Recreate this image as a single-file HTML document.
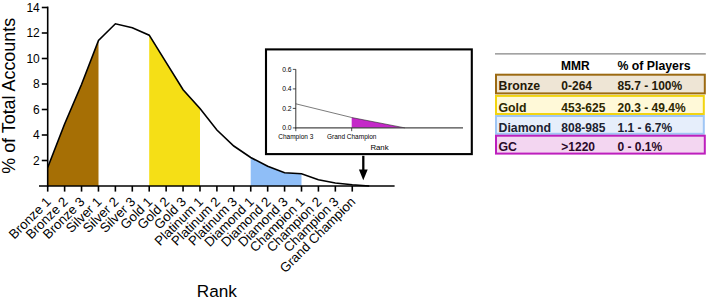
<!DOCTYPE html>
<html><head><meta charset="utf-8"><title>Rank distribution</title>
<style>
html,body{margin:0;padding:0;background:#fff;}
body{width:708px;height:300px;overflow:hidden;}
svg{display:block;}
text{font-family:"Liberation Sans",sans-serif;fill:#000;}
.b{font-weight:bold;}
</style></head><body>
<svg width="708" height="300" viewBox="0 0 708 300">
<rect width="708" height="300" fill="#fff"/>
<polygon points="47.7,186.0 47.7,167.5 64.6,124.0 81.5,84.5 98.5,40.5 98.5,186.0" fill="#A66F05"/>
<polygon points="149.2,186.0 149.2,35.2 166.1,62.4 183.1,89.7 200.0,108.5 200.0,186.0" fill="#F5DF16"/>
<polygon points="250.7,186.0 250.7,157.5 267.7,166.3 284.6,172.8 301.5,173.8 301.5,186.0" fill="#8FBEF7"/>
<polyline points="47.7,167.5 64.6,124.0 81.5,84.5 98.5,40.5 115.4,23.8 132.3,27.8 149.2,35.2 166.1,62.4 183.1,89.7 200.0,108.5 216.9,130.0 233.8,146.0 250.7,157.5 267.7,166.3 284.6,172.8 301.5,173.8 318.4,179.7 335.3,183.0 352.3,184.8 369.2,186.0" fill="none" stroke="#000" stroke-width="1.6" stroke-linejoin="miter"/>
<line x1="39" y1="186.0" x2="394.6" y2="186.0" stroke="#000" stroke-width="1.6"/>
<line x1="47.7" y1="6.6" x2="47.7" y2="186.8" stroke="#000" stroke-width="1.6"/>
<line x1="41.8" y1="160.50" x2="47.7" y2="160.50" stroke="#000" stroke-width="1.6"/>
<text x="39.8" y="164.80" font-size="12" text-anchor="end">2</text>
<line x1="41.8" y1="135.00" x2="47.7" y2="135.00" stroke="#000" stroke-width="1.6"/>
<text x="39.8" y="139.30" font-size="12" text-anchor="end">4</text>
<line x1="41.8" y1="109.50" x2="47.7" y2="109.50" stroke="#000" stroke-width="1.6"/>
<text x="39.8" y="113.80" font-size="12" text-anchor="end">6</text>
<line x1="41.8" y1="84.00" x2="47.7" y2="84.00" stroke="#000" stroke-width="1.6"/>
<text x="39.8" y="88.30" font-size="12" text-anchor="end">8</text>
<line x1="41.8" y1="58.50" x2="47.7" y2="58.50" stroke="#000" stroke-width="1.6"/>
<text x="39.8" y="62.80" font-size="12" text-anchor="end">10</text>
<line x1="41.8" y1="33.00" x2="47.7" y2="33.00" stroke="#000" stroke-width="1.6"/>
<text x="39.8" y="37.30" font-size="12" text-anchor="end">12</text>
<line x1="41.8" y1="7.50" x2="47.7" y2="7.50" stroke="#000" stroke-width="1.6"/>
<text x="39.8" y="11.80" font-size="12" text-anchor="end">14</text>
<line x1="47.70" y1="186.0" x2="47.70" y2="191.6" stroke="#000" stroke-width="1.6"/>
<text font-size="13.2" text-anchor="end" transform="translate(51.70,202.5) rotate(-45)">Bronze 1</text>
<line x1="64.62" y1="186.0" x2="64.62" y2="191.6" stroke="#000" stroke-width="1.6"/>
<text font-size="13.2" text-anchor="end" transform="translate(68.62,202.5) rotate(-45)">Bronze 2</text>
<line x1="81.54" y1="186.0" x2="81.54" y2="191.6" stroke="#000" stroke-width="1.6"/>
<text font-size="13.2" text-anchor="end" transform="translate(85.54,202.5) rotate(-45)">Bronze 3</text>
<line x1="98.46" y1="186.0" x2="98.46" y2="191.6" stroke="#000" stroke-width="1.6"/>
<text font-size="13.2" text-anchor="end" transform="translate(102.46,202.5) rotate(-45)">Silver 1</text>
<line x1="115.38" y1="186.0" x2="115.38" y2="191.6" stroke="#000" stroke-width="1.6"/>
<text font-size="13.2" text-anchor="end" transform="translate(119.38,202.5) rotate(-45)">Silver 2</text>
<line x1="132.30" y1="186.0" x2="132.30" y2="191.6" stroke="#000" stroke-width="1.6"/>
<text font-size="13.2" text-anchor="end" transform="translate(136.30,202.5) rotate(-45)">Silver 3</text>
<line x1="149.22" y1="186.0" x2="149.22" y2="191.6" stroke="#000" stroke-width="1.6"/>
<text font-size="13.2" text-anchor="end" transform="translate(153.22,202.5) rotate(-45)">Gold 1</text>
<line x1="166.14" y1="186.0" x2="166.14" y2="191.6" stroke="#000" stroke-width="1.6"/>
<text font-size="13.2" text-anchor="end" transform="translate(170.14,202.5) rotate(-45)">Gold 2</text>
<line x1="183.06" y1="186.0" x2="183.06" y2="191.6" stroke="#000" stroke-width="1.6"/>
<text font-size="13.2" text-anchor="end" transform="translate(187.06,202.5) rotate(-45)">Gold 3</text>
<line x1="199.98" y1="186.0" x2="199.98" y2="191.6" stroke="#000" stroke-width="1.6"/>
<text font-size="13.2" text-anchor="end" transform="translate(203.98,202.5) rotate(-45)">Platinum 1</text>
<line x1="216.90" y1="186.0" x2="216.90" y2="191.6" stroke="#000" stroke-width="1.6"/>
<text font-size="13.2" text-anchor="end" transform="translate(220.90,202.5) rotate(-45)">Platinum 2</text>
<line x1="233.82" y1="186.0" x2="233.82" y2="191.6" stroke="#000" stroke-width="1.6"/>
<text font-size="13.2" text-anchor="end" transform="translate(237.82,202.5) rotate(-45)">Platinum 3</text>
<line x1="250.74" y1="186.0" x2="250.74" y2="191.6" stroke="#000" stroke-width="1.6"/>
<text font-size="13.2" text-anchor="end" transform="translate(254.74,202.5) rotate(-45)">Diamond 1</text>
<line x1="267.66" y1="186.0" x2="267.66" y2="191.6" stroke="#000" stroke-width="1.6"/>
<text font-size="13.2" text-anchor="end" transform="translate(271.66,202.5) rotate(-45)">Diamond 2</text>
<line x1="284.58" y1="186.0" x2="284.58" y2="191.6" stroke="#000" stroke-width="1.6"/>
<text font-size="13.2" text-anchor="end" transform="translate(288.58,202.5) rotate(-45)">Diamond 3</text>
<line x1="301.50" y1="186.0" x2="301.50" y2="191.6" stroke="#000" stroke-width="1.6"/>
<text font-size="13.2" text-anchor="end" transform="translate(305.50,202.5) rotate(-45)">Champion 1</text>
<line x1="318.42" y1="186.0" x2="318.42" y2="191.6" stroke="#000" stroke-width="1.6"/>
<text font-size="13.2" text-anchor="end" transform="translate(322.42,202.5) rotate(-45)">Champion 2</text>
<line x1="335.34" y1="186.0" x2="335.34" y2="191.6" stroke="#000" stroke-width="1.6"/>
<text font-size="13.2" text-anchor="end" transform="translate(339.34,202.5) rotate(-45)">Champion 3</text>
<line x1="352.26" y1="186.0" x2="352.26" y2="191.6" stroke="#000" stroke-width="1.6"/>
<text font-size="13.2" text-anchor="end" transform="translate(356.26,202.5) rotate(-45)">Grand Champion</text>
<text font-size="17.9" text-anchor="middle" transform="translate(15.4,95.8) rotate(-90)">% of Total Accounts</text>
<text font-size="17.2" text-anchor="middle" x="216.8" y="296.6">Rank</text>
<rect x="266" y="49.4" width="205.8" height="104.7" fill="#fff" stroke="#000" stroke-width="2.1"/>
<polygon points="351.7,117.5 405,127.9 351.7,127.9" fill="#C428C8"/>
<polyline points="295.8,103.8 351.7,117.5 405,127.9" fill="none" stroke="#222" stroke-width="0.6"/>
<line x1="295.8" y1="69.3" x2="295.8" y2="128.4" stroke="#222" stroke-width="0.9"/>
<line x1="295.40000000000003" y1="127.9" x2="463" y2="127.9" stroke="#484848" stroke-width="1.25"/>
<line x1="292.8" y1="127.90" x2="295.8" y2="127.90" stroke="#222" stroke-width="0.8"/>
<text x="291.6" y="130.30" font-size="6.8" text-anchor="end">0.0</text>
<line x1="292.8" y1="108.40" x2="295.8" y2="108.40" stroke="#222" stroke-width="0.8"/>
<text x="291.6" y="110.80" font-size="6.8" text-anchor="end">0.2</text>
<line x1="292.8" y1="88.90" x2="295.8" y2="88.90" stroke="#222" stroke-width="0.8"/>
<text x="291.6" y="91.30" font-size="6.8" text-anchor="end">0.4</text>
<line x1="292.8" y1="69.40" x2="295.8" y2="69.40" stroke="#222" stroke-width="0.8"/>
<text x="291.6" y="71.80" font-size="6.8" text-anchor="end">0.6</text>
<line x1="295.8" y1="127.9" x2="295.8" y2="131.2" stroke="#222" stroke-width="0.8"/>
<line x1="351.7" y1="127.9" x2="351.7" y2="131.2" stroke="#222" stroke-width="0.8"/>
<text x="295.8" y="138.8" font-size="6.5" text-anchor="middle">Champion 3</text>
<text x="351.7" y="138.8" font-size="6.5" text-anchor="middle">Grand Champion</text>
<text x="379.5" y="150" font-size="7.8" text-anchor="middle">Rank</text>
<line x1="363.3" y1="155.8" x2="363.3" y2="171.5" stroke="#000" stroke-width="2.3"/>
<polygon points="358.9,169.6 367.7,169.6 363.3,180.2" fill="#000"/>
<line x1="495" y1="53.9" x2="705.8" y2="53.9" stroke="#858585" stroke-width="1.3"/>
<text class="b" x="561.1" y="70.2" font-size="12" fill="#111">MMR</text>
<text class="b" x="617.4" y="70.2" font-size="12.3" fill="#111">% of Players</text>
<rect x="496" y="74.7" width="208.8" height="18.7" fill="#EEE5D5" stroke="#9C6A12" stroke-width="2"/>
<text class="b" x="498.5" y="90.3" font-size="12.3" style="fill:#241a08">Bronze</text>
<text class="b" x="561.3" y="90.3" font-size="12" style="fill:#241a08">0-264</text>
<text class="b" x="617.5" y="90.3" font-size="12" style="fill:#241a08">85.7 - 100%</text>
<rect x="496" y="95.9" width="207.8" height="18.1" fill="#FFF9D8" stroke="#F2D410" stroke-width="2"/>
<text class="b" x="498.5" y="111.5" font-size="12.3" style="fill:#2e2800">Gold</text>
<text class="b" x="561.3" y="111.5" font-size="12" style="fill:#2e2800">453-625</text>
<text class="b" x="617.5" y="111.5" font-size="12" style="fill:#2e2800">20.3 - 49.4%</text>
<rect x="496" y="116.0" width="207.8" height="17.8" fill="#E6EEFB" stroke="#9FC6F5" stroke-width="2"/>
<text class="b" x="498.5" y="131.6" font-size="12.3" style="fill:#1c2230">Diamond</text>
<text class="b" x="561.3" y="131.6" font-size="12" style="fill:#1c2230">808-985</text>
<text class="b" x="617.5" y="131.6" font-size="12" style="fill:#1c2230">1.1 - 6.7%</text>
<rect x="496" y="135.7" width="208.8" height="17.9" fill="#F3D6F1" stroke="#BD1FBD" stroke-width="2"/>
<text class="b" x="498.5" y="151.3" font-size="12.3" style="fill:#2a0a2a">GC</text>
<text class="b" x="561.3" y="151.3" font-size="12" style="fill:#2a0a2a">&gt;1220</text>
<text class="b" x="617.5" y="151.3" font-size="12" style="fill:#2a0a2a">0 - 0.1%</text>
</svg></body></html>
